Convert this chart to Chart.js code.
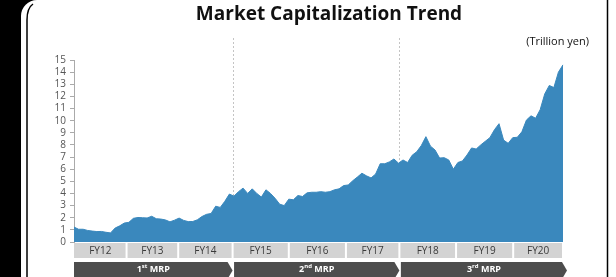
<!DOCTYPE html>
<html>
<head>
<meta charset="utf-8">
<script src="https://cdn.jsdelivr.net/npm/chart.js"></script>
<style>
    html, body { margin: 0; padding: 0; background: #fff; }
    #wrap { width: 616px; height: 277px; position: relative; }
</style>
</head>
<body>
<div id="wrap"><canvas id="chart1" width="616" height="277"></canvas></div>
<script>
// Datos: capitalización bursátil mensual (billones de yenes), abril 2012 - marzo 2021
const marketCap = [
    1.23, 1.05, 1.05, 0.95, 0.90, 0.86, 0.87, 0.80, 0.75, 1.15, 1.33, 1.56,
    1.62, 1.95, 2.02, 2.00, 1.98, 2.12, 1.92, 1.89, 1.82, 1.66, 1.80, 1.97,
    1.78, 1.68, 1.69, 1.83, 2.10, 2.28, 2.35, 2.95, 2.85, 3.35, 3.95, 3.78,
    4.15, 4.44, 4.00, 4.38, 4.00, 3.70, 4.30, 4.00, 3.60, 3.12, 3.00, 3.53,
    3.48, 3.83, 3.75, 4.05, 4.10, 4.10, 4.15, 4.10, 4.15, 4.30, 4.38, 4.65,
    4.70, 5.05, 5.35, 5.67, 5.45, 5.28, 5.60, 6.45, 6.45, 6.60, 6.84, 6.50,
    6.76, 6.55, 7.15, 7.44, 7.95, 8.68, 7.90, 7.58, 6.92, 6.95, 6.76, 6.00,
    6.55, 6.68, 7.17, 7.75, 7.66, 8.00, 8.30, 8.60, 9.25, 9.75, 8.40, 8.13,
    8.60, 8.63, 9.08, 10.05, 10.40, 10.20, 10.90, 12.20, 12.90, 12.73, 14.00, 14.60
];

const fiscalYears = ['FY12', 'FY13', 'FY14', 'FY15', 'FY16', 'FY17', 'FY18', 'FY19', 'FY20'];
// límites de cada año fiscal, en índice de mes
const fyEdges = [0, 11.5, 22.8, 34.7, 47, 59.5, 71.2, 83.6, 96.1, 107];
const mrpNames = [['1', 'st'], ['2', 'nd'], ['3', 'rd']];
const mrpYears = [[0, 3], [3, 6], [6, 9]];
const yTicks = { min: 0, max: 15, step: 1 };

const monthLabels = [];
for (let i = 0; i < marketCap.length; i++) {
    const m = (3 + i) % 12;
    const y = 2012 + Math.floor((3 + i) / 12);
    monthLabels.push(y + '-' + String(m + 1).padStart(2, '0'));
}

const FONT = '"Open Sans", "Noto Sans", sans-serif';

const decor = {
    id: 'decor',
    beforeDraw(chart) {
        const c = chart.ctx;
        c.save();
        // marco negro de la diapositiva
        c.fillStyle = '#000';
        c.fillRect(0, 0, 40, 277);
        c.fillStyle = '#fff';
        c.beginPath();
        c.roundRect(21, 0, 620, 300, [16, 0, 0, 0]);
        c.fill();
        c.strokeStyle = '#000';
        c.lineWidth = 1.5;
        c.beginPath();
        c.moveTo(27, 277);
        c.lineTo(27, 20);
        c.quadraticCurveTo(27, 8, 33, 4);
        c.stroke();
        c.beginPath();
        c.moveTo(607.5, 0);
        c.lineTo(607.5, 277);
        c.stroke();

        c.fillStyle = '#111';
        c.textAlign = 'center';
        c.textBaseline = 'middle';
        c.font = 'bold 19px ' + FONT;
        c.fillText('Market Capitalization Trend', 329, 15);
        c.textAlign = 'right';
        c.font = '11px ' + FONT;
        c.fillText('(Trillion yen)', 589, 42);
        c.restore();
    },
    beforeDatasetsDraw(chart) {
        const c = chart.ctx;
        const x = chart.scales.x;
        const area = chart.chartArea;
        c.save();
        c.strokeStyle = '#c4c4c4';
        c.lineWidth = 1;
        c.setLineDash([2, 2]);
        [fyEdges[3], fyEdges[6]].forEach(v => {
            const px = Math.round(x.getPixelForValue(v)) + 0.5;
            c.beginPath();
            c.moveTo(px, area.top - 22);
            c.lineTo(px, area.bottom);
            c.stroke();
        });
        c.restore();
    },
    afterDraw(chart) {
        const c = chart.ctx;
        const x = chart.scales.x;
        const area = chart.chartArea;
        c.save();
        // fila de años fiscales
        const rowTop = area.bottom + 1;
        const rowH = 15;
        c.font = '10px ' + FONT;
        c.textAlign = 'center';
        c.textBaseline = 'middle';
        fiscalYears.forEach((fy, k) => {
            const x0 = x.getPixelForValue(fyEdges[k]);
            const x1 = x.getPixelForValue(fyEdges[k + 1]);
            c.fillStyle = '#d3d3d3';
            c.fillRect(x0 + (k ? 1 : 0), rowTop, x1 - x0 - (k ? 2 : 1), rowH);
            c.fillStyle = '#3a3a3a';
            c.fillText(fy, (x0 + x1) / 2, rowTop + rowH / 2 + 0.5);
        });

        // flechas de los planes (MRP)
        const aTop = 262, aBot = 279, tipLen = 5;
        mrpYears.forEach((span, m) => {
            const x0 = x.getPixelForValue(fyEdges[span[0]]) + (m ? 1.5 : 0);
            const tip = x.getPixelForValue(fyEdges[span[1]]) + (m === 2 ? 4 : 0);
            c.fillStyle = '#4d4d4d';
            c.beginPath();
            c.moveTo(x0, aTop);
            c.lineTo(tip - tipLen, aTop);
            c.lineTo(tip, (aTop + aBot) / 2);
            c.lineTo(tip - tipLen, aBot);
            c.lineTo(x0, aBot);
            c.closePath();
            c.fill();

            const big = 'bold 9px ' + FONT;
            const small = 'bold 6px ' + FONT;
            const parts = [[mrpNames[m][0], big, 0], [mrpNames[m][1], small, -3], [' MRP', big, 0]];
            let w = 0;
            parts.forEach(p => { c.font = p[1]; w += c.measureText(p[0]).width; });
            let cx = (x0 + tip) / 2 - w / 2;
            c.fillStyle = '#fff';
            c.textAlign = 'left';
            parts.forEach(p => {
                c.font = p[1];
                c.fillText(p[0], cx, 269.5 + p[2]);
                cx += c.measureText(p[0]).width;
            });
        });
        c.restore();
    }
};

const ctx1 = document.getElementById('chart1');
new Chart(ctx1, {
    type: 'line',
    data: {
        labels: monthLabels,
        datasets: [{
            label: 'Market capitalization',
            data: marketCap,
            borderColor: '#3a88bd',
            backgroundColor: '#3a88bd',
            borderWidth: 1,
            pointRadius: 0,
            tension: 0,
            fill: 'origin'
        }]
    },
    options: {
        responsive: false,
        animation: false,
        layout: { padding: { left: 0, right: 53, top: 60, bottom: 35 } },
        plugins: { legend: { display: false }, tooltip: { enabled: false }, title: { display: false } },
        scales: {
            x: { display: false, offset: false },
            y: {
                min: yTicks.min,
                max: yTicks.max,
                afterFit: s => { s.width = 74; },
                ticks: { stepSize: yTicks.step, autoSkip: false, color: '#555', padding: 4, font: { family: FONT, size: 10 } },
                grid: { drawOnChartArea: false, tickLength: 4, color: '#aaa' },
                border: { display: true, color: '#aaa' }
            }
        }
    },
    plugins: [decor]
});
</script>
</body>
</html>
